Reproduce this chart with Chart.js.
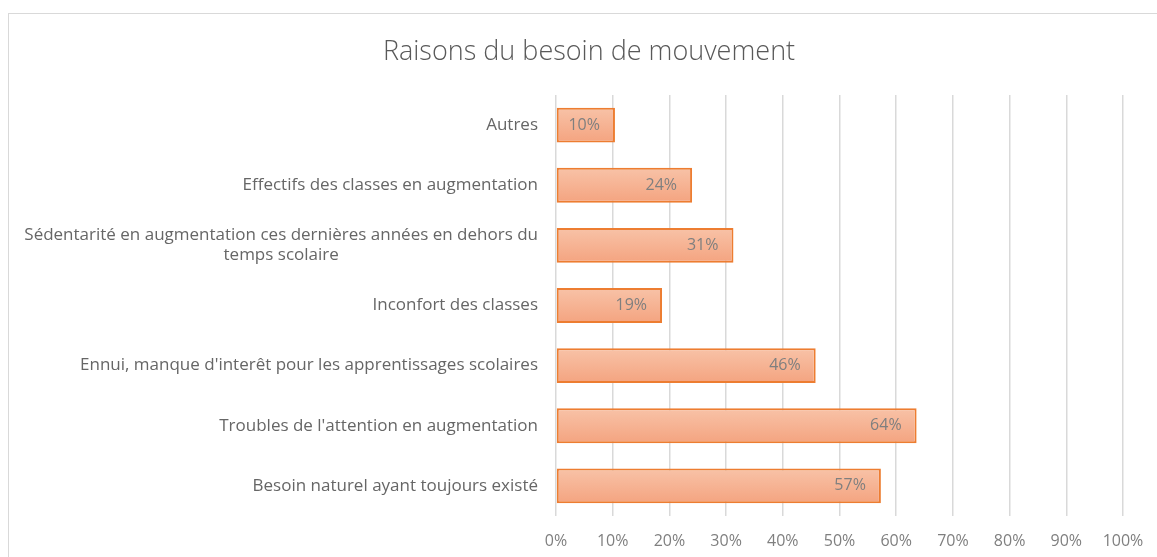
<!DOCTYPE html>
<html>
<head>
<meta charset="utf-8">
<script src="https://cdn.jsdelivr.net/npm/chart.js@4.4.1/dist/chart.umd.min.js"></script>
<style>
  html, body { margin: 0; padding: 0; overflow: hidden; background: #fff; width: 1157px; height: 557px; }
  #cadre { position: absolute; left: 8px; top: 13px; width: 1160px; height: 560px; border: 1px solid #d9d9d9; }
</style>
</head>
<body>
<div id="cadre"><canvas id="graphique" width="1160" height="560"></canvas></div>
<script>
// Données (du haut vers le bas)
const categories = [
  ['Autres'],
  ['Effectifs des classes en augmentation'],
  ['Sédentarité en augmentation ces dernières années en dehors du', 'temps scolaire'],
  ['Inconfort des classes'],
  ["Ennui, manque d'interêt pour les apprentissages scolaires"],
  ["Troubles de l'attention en augmentation"],
  ['Besoin naturel ayant toujours existé']
];
const valeurs = [10.4, 24, 31.3, 18.7, 45.8, 63.6, 57.3];
const graduations = [0, 10, 20, 30, 40, 50, 60, 70, 80, 90, 100];

const titre = 'Raisons du besoin de mouvement';
const police = '"Open Sans", sans-serif';

// Dégradé vertical par barre
function degradeBarre(ctx) {
  const chart = ctx.chart;
  const y = chart.scales && chart.scales.y;
  if (!y || !chart.chartArea) return '#f6b596';
  const yc = y.getPixelForValue(ctx.dataIndex);
  const h = 18;
  const g = chart.ctx.createLinearGradient(0, yc - h, 0, yc + h);
  g.addColorStop(0, '#f8c3a8');
  g.addColorStop(1, '#f4a37f');
  return g;
}

// Titre, étiquettes de catégories et étiquettes de valeurs
const dessinTextes = {
  id: 'dessinTextes',
  afterDatasetsDraw(chart) {
    const c = chart.ctx;
    c.save();
    // titre
    c.font = '300 27px ' + police;
    c.fillStyle = '#595959';
    c.textAlign = 'center';
    c.textBaseline = 'alphabetic';
    c.fillText(titre, chart.width / 2, 46);

    // catégories
    const y = chart.scales.y;
    c.font = '17px ' + police;
    c.fillStyle = '#666666';
    c.textBaseline = 'middle';
    c.textAlign = 'center';
    const droite = 529;
    const interligne = 20;
    categories.forEach((lignes, i) => {
      const yc = y.getPixelForValue(i);
      const larg = Math.max(...lignes.map(l => c.measureText(l).width));
      const cx = droite - larg / 2;
      const y0 = yc - (lignes.length - 1) * interligne / 2;
      lignes.forEach((l, k) => c.fillText(l, cx, y0 + k * interligne));
    });

    // valeurs
    c.font = '16px ' + police;
    c.fillStyle = '#7f7f7f';
    c.textAlign = 'right';
    chart.getDatasetMeta(0).data.forEach((el, i) => {
      c.fillText(Math.round(valeurs[i]) + '%', el.x - 15, el.y);
    });
    c.restore();
  }
};

new Chart(document.getElementById('graphique'), {
  type: 'bar',
  data: {
    labels: categories,
    datasets: [{
      data: valeurs,
      backgroundColor: degradeBarre,
      borderColor: '#ed7d31',
      borderWidth: 2,
      borderSkipped: false,
      categoryPercentage: 1,
      barPercentage: 0.58
    }]
  },
  options: {
    indexAxis: 'y',
    responsive: false,
    animation: false,
    layout: { padding: { top: 81, right: 46, bottom: 0, left: 0 } },
    plugins: { legend: { display: false }, title: { display: false }, tooltip: { enabled: false } },
    scales: {
      x: {
        min: 0, max: 100,
        afterBuildTicks(scale) { scale.ticks = graduations.map(v => ({ value: v })); },
        afterFit(scale) { scale.height = 58; },
        border: { display: false },
        grid: { color: '#d9d9d9', lineWidth: 1.5, drawTicks: false },
        ticks: {
          padding: 16,
          color: '#7f7f7f',
          font: { family: police, size: 16 },
          callback: v => v + '%'
        }
      },
      y: {
        afterFit(scale) { scale.width = 547; },
        border: { display: false },
        grid: { display: false },
        ticks: { display: false }
      }
    }
  },
  plugins: [dessinTextes]
});
</script>
</body>
</html>
